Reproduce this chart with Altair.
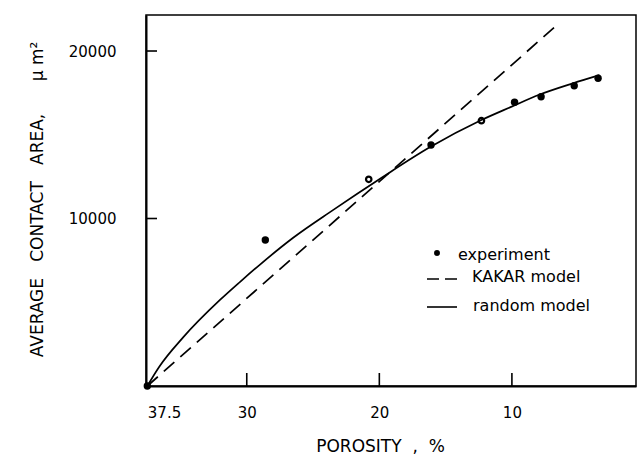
import altair as alt
import pandas as pd

# ---- data ----
exp_porosity = [37.5, 28.6, 20.8, 16.1, 12.3, 9.8, 7.8, 5.3, 3.5]
exp_area = [0, 8720, 12340, 14390, 15840, 16940, 17270, 17930, 18370]
exp_filled = [True, True, False, True, False, True, True, True, True]

random_porosity = [37.5, 36.6, 34.8, 32.0, 30.5, 29.0, 26.5, 23.5, 19.8, 16.2, 12.3, 10.1, 7.9, 5.4, 3.4]
random_area = [0, 1150, 2900, 5150, 6220, 7250, 8850, 10500, 12450, 14250, 15880, 16650, 17400, 18070, 18560]

kakar_porosity = [37.5, 6.6]
kakar_area = [0, 21550]

x_tick_values = [37.5, 30, 20, 10]
y_tick_values = [10000, 20000]

legend_labels = ["experiment", "KAKAR model", "random model"]

W, H = 490, 371
FONT = "DejaVu Sans"
NB = "\u00a0"

xscale = alt.Scale(domain=[0.64, 37.6], reverse=True, nice=False, zero=False)
yscale = alt.Scale(domain=[0, 22150], nice=False, zero=True)

exp_df = pd.DataFrame({"porosity": exp_porosity, "area": exp_area, "filled": exp_filled})
rand_df = pd.DataFrame({"porosity": random_porosity, "area": random_area})
kakar_df = pd.DataFrame({"porosity": kakar_porosity, "area": kakar_area})
xt_df = pd.DataFrame({"porosity": [v for v in x_tick_values if v != 37.5]})
yt_df = pd.DataFrame({"area": y_tick_values})

x_title = "POROSITY" + NB * 2 + "," + NB * 2 + "%"
y_title = ("AVERAGE" + NB * 3 + "CONTACT" + NB * 3 + "AREA," + NB * 6 + "\u03bc" + NB + "m\u00b2")

x_axis = alt.Axis(
    values=x_tick_values, labelExpr="'' + datum.value", title=x_title, grid=False,
    ticks=False, tickSize=0,
    domainColor="black", domainWidth=2, labelColor="black", labelFontSize=15,
    labelPadding=19, labelFont=FONT, labelFlush=3,
    titleFont=FONT, titleFontSize=17, titleFontWeight="normal", titleColor="black",
    titleX=234, titleY=60, titleAlign="center", titleBaseline="middle",
)
y_axis = alt.Axis(
    values=y_tick_values, format="d", title=y_title,
    grid=False, ticks=False, tickSize=0,
    domainColor="black", domainWidth=2, labelColor="black", labelFontSize=15,
    labelPadding=30, labelFont=FONT,
    titleFont=FONT, titleFontSize=17, titleFontWeight="normal", titleColor="black",
    titleX=-109, titleY=184, titleAlign="center", titleBaseline="middle", titleAngle=270,
)

X = alt.X("porosity:Q", scale=xscale, axis=x_axis)
Y = alt.Y("area:Q", scale=yscale, axis=y_axis)

random_line = alt.Chart(rand_df).mark_line(
    color="black", strokeWidth=1.7, interpolate="monotone"
).encode(x=X, y=Y)

kakar_line = alt.Chart(kakar_df).mark_line(
    color="black", strokeWidth=1.7, strokeDash=[14, 8]
).encode(x=X, y=Y)

exp_filled_pts = alt.Chart(exp_df).transform_filter("datum.filled").mark_point(
    filled=True, color="black", size=55, opacity=1
).encode(x=X, y=Y)
exp_open_pts = alt.Chart(exp_df).transform_filter("!datum.filled").mark_point(
    filled=False, color="black", size=30, strokeWidth=2.2, opacity=1
).encode(x=X, y=Y)

x_ticks = alt.Chart(xt_df).mark_rule(color="black", strokeWidth=1.6).encode(
    x=X,
    y=alt.value(H),
    y2=alt.value(H - 13),
)
y_ticks = alt.Chart(yt_df).mark_rule(color="black", strokeWidth=1.6).encode(
    y=Y,
    x=alt.value(0),
    x2=alt.value(11),
)

# ---- manual legend ----
leg_exp_df = pd.DataFrame({"t": [legend_labels[0]]})
leg_kak_df = pd.DataFrame({"t": [legend_labels[1]]})
leg_rnd_df = pd.DataFrame({"t": [legend_labels[2]]})

LFS = 16
leg_dot = alt.Chart(leg_exp_df).mark_point(filled=True, color="black", size=35, opacity=1).encode(
    x=alt.value(291), y=alt.value(238))
leg_exp_txt = alt.Chart(leg_exp_df).mark_text(
    align="left", baseline="middle", font=FONT, fontSize=LFS, color="black").encode(
    x=alt.value(312), y=alt.value(240), text="t:N")
leg_kak_rule = alt.Chart(leg_kak_df).mark_rule(color="black", strokeWidth=1.6, strokeDash=[12, 6]).encode(
    x=alt.value(281), x2=alt.value(311), y=alt.value(264))
leg_kak_txt = alt.Chart(leg_kak_df).mark_text(
    align="left", baseline="middle", font=FONT, fontSize=LFS, color="black").encode(
    x=alt.value(326), y=alt.value(262), text="t:N")
leg_rnd_rule = alt.Chart(leg_rnd_df).mark_rule(color="black", strokeWidth=1.6).encode(
    x=alt.value(281), x2=alt.value(311), y=alt.value(292))
leg_rnd_txt = alt.Chart(leg_rnd_df).mark_text(
    align="left", baseline="middle", font=FONT, fontSize=LFS, color="black").encode(
    x=alt.value(327), y=alt.value(291), text="t:N")

chart = alt.layer(
    random_line, kakar_line, exp_filled_pts, exp_open_pts, x_ticks, y_ticks,
    leg_dot, leg_exp_txt, leg_kak_rule, leg_kak_txt, leg_rnd_rule, leg_rnd_txt,
).properties(
    width=W, height=H,
    autosize=alt.AutoSizeParams(type="none"),
    padding={"left": 146, "top": 15, "right": 3, "bottom": 73},
    background="white",
).configure(
    font=FONT,
    view=alt.ViewConfig(stroke="black", strokeWidth=1.5),
)

chart.save("out.html", embed_options={"renderer": "svg", "actions": False})
